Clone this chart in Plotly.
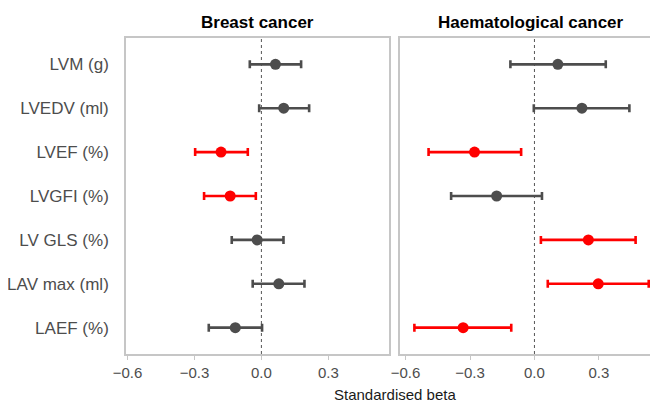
import plotly.graph_objects as go

categories = ["LVM (g)", "LVEDV (ml)", "LVEF (%)", "LVGFI (%)", "LV GLS (%)", "LAV max (ml)", "LAEF (%)"]

breast_beta = [0.063, 0.100, -0.181, -0.140, -0.019, 0.078, -0.117]
breast_lo = [-0.052, -0.010, -0.297, -0.257, -0.133, -0.039, -0.236]
breast_hi = [0.178, 0.214, -0.061, -0.025, 0.099, 0.193, 0.003]
breast_sig = [False, False, True, True, False, False, False]

haem_beta = [0.109, 0.221, -0.279, -0.176, 0.251, 0.297, -0.332]
haem_lo = [-0.112, -0.003, -0.493, -0.388, 0.030, 0.062, -0.559]
haem_hi = [0.332, 0.442, -0.062, 0.035, 0.471, 0.532, -0.108]
haem_sig = [False, False, True, False, True, True, True]

panel_titles = ["Breast cancer", "Haematological cancer"]
x_tickvals = [-0.6, -0.3, 0.0, 0.3]
x_ticktext = ["\u22120.6", "\u22120.3", "0.0", "0.3"]
x_title = "Standardised beta"

GREY = "#4d4d4d"
RED = "#ff0000"
FRAME = "#c6c6c6"
FONT = "Liberation Sans, Arial, Helvetica, sans-serif"

W, H = 642, 394

fig = go.Figure()

def add_panel(beta, lo, hi, sig, xa, ya):
    for flag, col in [(False, GREY), (True, RED)]:
        idx = [i for i, s in enumerate(sig) if s == flag]
        fig.add_trace(go.Scatter(
            x=[beta[i] for i in idx],
            y=[categories[i] for i in idx],
            mode="markers",
            marker=dict(color=col, size=11, line=dict(width=0)),
            error_x=dict(type="data", symmetric=False,
                         array=[hi[i] - beta[i] for i in idx],
                         arrayminus=[beta[i] - lo[i] for i in idx],
                         color=col, thickness=2.6, width=4),
            xaxis=xa, yaxis=ya, showlegend=False, hoverinfo="x+y",
        ))

add_panel(breast_beta, breast_lo, breast_hi, breast_sig, "x", "y")
add_panel(haem_beta, haem_lo, haem_hi, haem_sig, "x2", "y2")

common_x = dict(
    tickvals=x_tickvals, ticktext=x_ticktext, ticks="outside", ticklen=4,
    tickcolor=FRAME, tickwidth=1.3, showgrid=False, zeroline=False,
    showline=True, linecolor=FRAME, linewidth=1.6, automargin=False,
    tickfont=dict(family=FONT, size=15, color=GREY),
)
cat_y = dict(
    type="category", categoryarray=categories, range=[6.6, -0.6], automargin=False,
    showgrid=False, zeroline=False, showline=True, linecolor=FRAME, linewidth=1.6,
)

fig.update_layout(
    width=W, height=H,
    margin=dict(l=0, r=0, t=30, b=48, pad=0),
    paper_bgcolor="white", plot_bgcolor="white",
    font=dict(family=FONT, color=GREY),
    xaxis=dict(domain=[118 / W, 381 / W], range=[-0.607, 0.572], mirror=True, anchor="y", **common_x),
    xaxis2=dict(domain=[392 / W, 1.0], range=[-0.626, 0.538], mirror=True, anchor="y2", **common_x),
    yaxis=dict(anchor="x", mirror=True, ticks="", ticklabelstandoff=12,
               tickfont=dict(family=FONT, size=17, color=GREY), **cat_y),
    yaxis2=dict(anchor="x2", mirror=False, showticklabels=False, ticks="",
                matches="y", **cat_y),
    shapes=[
        dict(type="line", xref="x", yref="y domain", x0=0, x1=0, y0=0, y1=1,
             line=dict(color="#555555", width=1, dash="dot"), layer="below"),
        dict(type="line", xref="x2", yref="y2 domain", x0=0, x1=0, y0=0, y1=1,
             line=dict(color="#555555", width=1, dash="dot"), layer="below"),
    ],
    annotations=[
        dict(text="<b>" + panel_titles[0] + "</b>", xref="x domain", yref="paper",
             x=0.5, y=1, yshift=16, showarrow=False, xanchor="center", yanchor="middle",
             font=dict(family=FONT, size=17, color="black")),
        dict(text="<b>" + panel_titles[1] + "</b>", xref="paper", yref="paper",
             x=523 / W, y=1, yshift=16, showarrow=False, xanchor="center", yanchor="middle",
             font=dict(family=FONT, size=17, color="black")),
        dict(text=x_title, xref="paper", yref="paper", x=387 / W, y=0, yshift=-40,
             showarrow=False, xanchor="center", yanchor="middle",
             font=dict(family=FONT, size=15, color="#1a1a1a")),
    ],
)

fig.write_html("out.html")
